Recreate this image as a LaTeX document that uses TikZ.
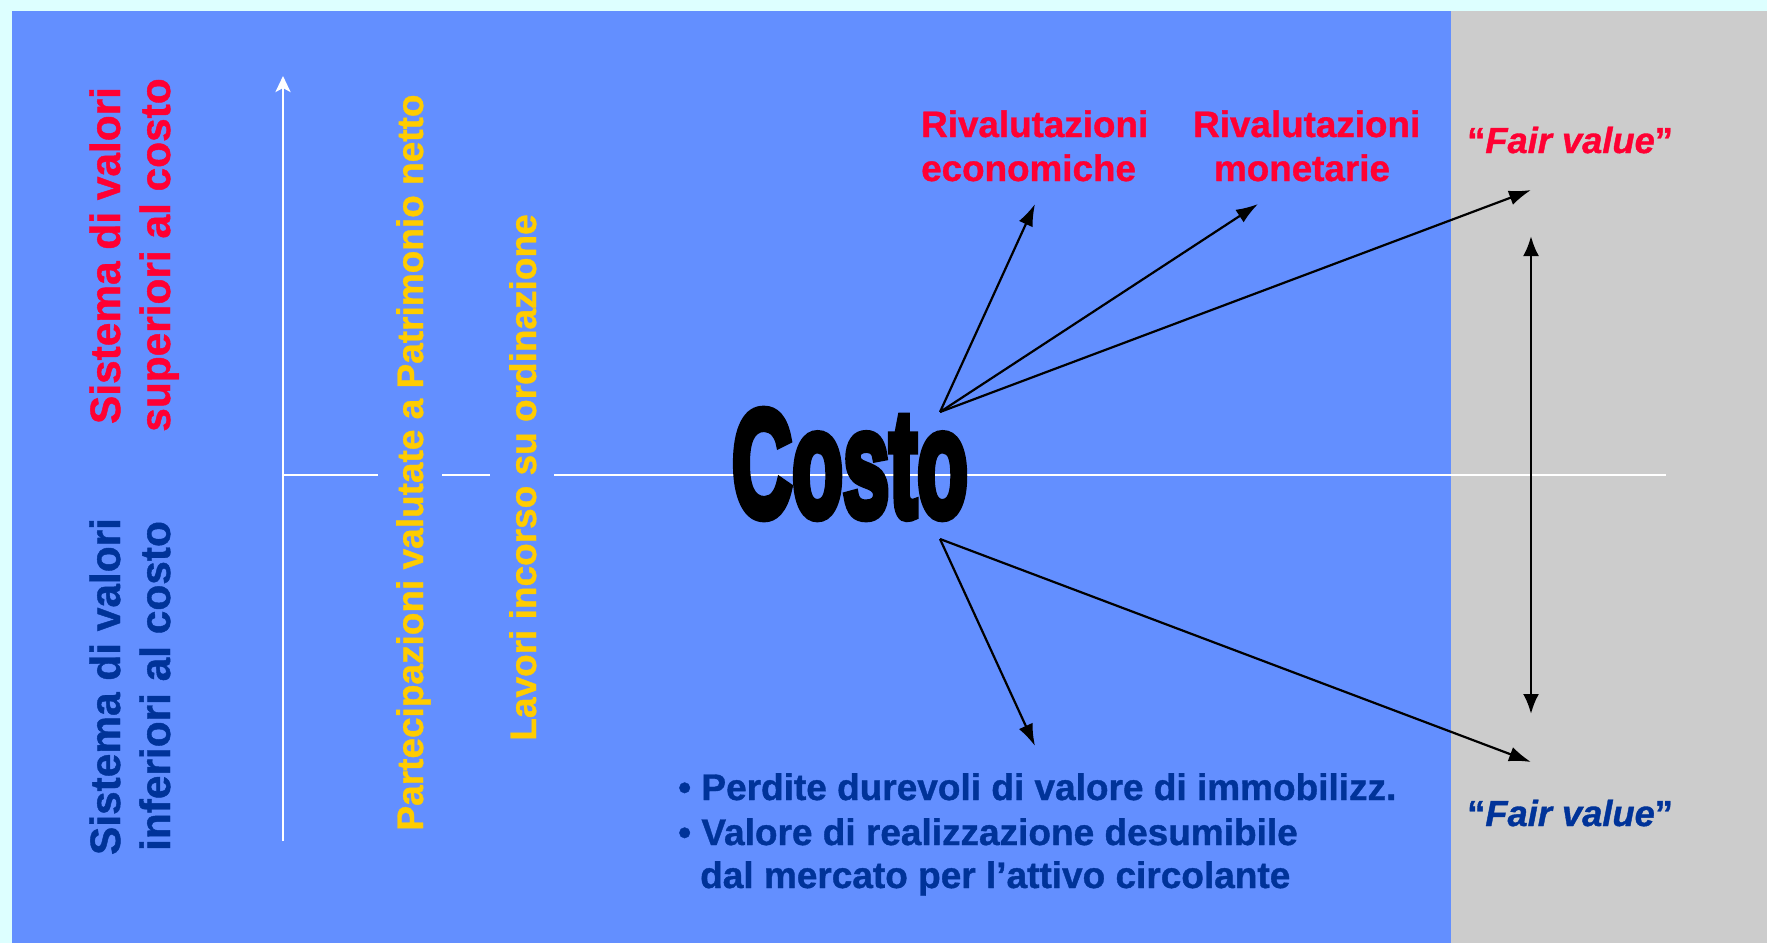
\documentclass[tikz,border=0pt]{standalone}
\usepackage{fontspec}
\setmainfont{Liberation Sans}[BoldFeatures={FakeBold=1}, BoldItalicFeatures={FakeBold=1}]
\newfontfamily\costofont[FakeBold=6]{Liberation Sans Bold}
\usetikzlibrary{arrows.meta}
\definecolor{bgcyan}{RGB}{221,255,255}
\definecolor{panelblue}{RGB}{99,143,255}
\definecolor{panelgray}{RGB}{204,204,204}
\definecolor{txtred}{RGB}{255,0,51}
\definecolor{txtblue}{RGB}{0,51,153}
\definecolor{txtyellow}{RGB}{255,204,0}
\begin{document}
\begin{tikzpicture}[x=1pt,y=1pt,
  sidetxt/.style={inner sep=0pt, rotate=90, anchor=base, font={\fontsize{42.4}{50}\selectfont\bfseries}},
  yeltxt/.style={inner sep=0pt, rotate=90, anchor=base, text=txtyellow, font={\fontsize{37}{44}\selectfont\bfseries}},
  redtxt/.style={inner sep=0pt, text=txtred, font={\fontsize{36.8}{44}\selectfont\bfseries}},
  bultxt/.style={inner sep=0pt, anchor=base west, text=txtblue, font={\fontsize{37}{44}\selectfont\bfseries}},
  fvtxt/.style={inner sep=0pt, anchor=base west, font={\fontsize{36.3}{44}\selectfont\bfseries}},
  axis/.style={white, line width=2.8pt},
  conn/.style={black, line width=2.2pt, -{Latex[length=22pt,width=15pt]}},
  dconn/.style={black, line width=2.8pt, {Latex[length=20pt,width=16pt]}-{Latex[length=20pt,width=16pt]}}
]
\useasboundingbox (0,0) rectangle (1767,-943);
\fill[bgcyan] (0,0) rectangle (1767,-943);
\fill[panelblue] (12,-11) rectangle (1451,-943);
\fill[panelgray] (1451,-11) rectangle (1767,-943);

% axes
\coordinate (axbot) at (283,-841);
\coordinate (axtop) at (283,-76);
\coordinate (h0) at (283,-475);
\coordinate (h1) at (378,-475);
\coordinate (h2) at (442,-475);
\coordinate (h3) at (490,-475);
\coordinate (h4) at (554,-475);
\coordinate (h5) at (1666,-475);
\draw[axis, -{Stealth[length=16pt,width=15pt,inset=4pt]}] (axbot) -- (axtop);
\draw[axis] (h0) -- (h1) (h2) -- (h3) (h4) -- (h5);

% left rotated texts
\node[sidetxt, text=txtred] (sup1) at (120,-255.5) {Sistema di valori};
\node[sidetxt, text=txtred] (sup2) at (170,-255) {superiori al costo};
\node[sidetxt, text=txtblue] (inf1) at (120,-686.5) {Sistema di valori};
\node[sidetxt, text=txtblue] (inf2) at (170,-686) {inferiori al costo};
\node[yeltxt] (part) at (423,-462.5) {Partecipazioni valutate a Patrimonio netto};
\node[yeltxt] (lav) at (536,-477.5) {Lavori incorso su ordinazione};

% Costo
\node[inner sep=0pt, text=black] (costo) at (850,-464) {\resizebox{236pt}{106pt}{\costofont Costo}};

% top labels
\node[redtxt, anchor=base west] (rv1a) at (921,-137) {Rivalutazioni};
\node[redtxt, anchor=base west] (rv1b) at (921,-181) {economiche};
\node[redtxt, anchor=base west] (rv2a) at (1193,-137) {Rivalutazioni};
\node[redtxt, anchor=base] (rv2b) at (1302,-181) {monetarie};
\node[fvtxt, text=txtred] (fv1) at (1467,-153) {“\textit{Fair value}”};
\node[fvtxt, text=txtblue] (fv2) at (1467,-826) {“\textit{Fair value}”};

% bottom labels
\node[bultxt] (p1) at (678,-800) {• Perdite durevoli di valore di immobilizz.};
\node[bultxt] (p2) at (678,-845) {• Valore di realizzazione desumibile};
\node[bultxt] (p3) at (700,-888) {dal mercato per l’attivo circolante};

% connectors
\coordinate (o1) at (940,-412);
\coordinate (o2) at (940,-539);
\coordinate (t1) at (1035,-204);
\coordinate (t2) at (1258,-204);
\coordinate (t3) at (1531,-190);
\coordinate (b1) at (1035,-746);
\coordinate (b2) at (1531,-762);
\coordinate (d1) at (1531,-236);
\coordinate (d2) at (1531,-714);
\draw[conn] (o1) -- (t1);
\draw[conn] (o1) -- (t2);
\draw[conn] (o1) -- (t3);
\draw[conn] (o2) -- (b1);
\draw[conn] (o2) -- (b2);
\draw[dconn] (d1) -- (d2);
\end{tikzpicture}
\end{document}
